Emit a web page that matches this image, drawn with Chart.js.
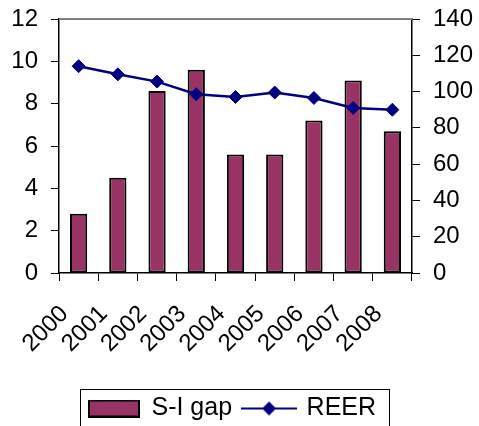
<!DOCTYPE html>
<html>
<head>
<meta charset="utf-8">
<script src="https://cdn.jsdelivr.net/npm/chart.js@4/dist/chart.umd.min.js"></script>
<style>
  html, body { margin: 0; padding: 0; background: #fff; }
  #wrap { width: 479px; height: 426px; position: relative; }
</style>
</head>
<body>
<div id="wrap"><canvas id="c" width="479" height="426"></canvas></div>
<script>
const years = ['2000', '2001', '2002', '2003', '2004', '2005', '2006', '2007', '2008'];
const siGap = [2.8, 4.5, 8.6, 9.6, 5.6, 5.6, 7.2, 9.1, 6.7];
const reer = [114, 109.5, 105.5, 98.5, 97, 99.5, 96.5, 91, 90];

const BAR = '#993366';
const LINE = '#000080';

Chart.defaults.font.family = '"Liberation Sans", Arial, sans-serif';
Chart.defaults.color = '#000';

function barSwatch() {
  const c = document.createElement('canvas');
  c.width = 52; c.height = 18;
  const x = c.getContext('2d');
  x.fillStyle = BAR; x.fillRect(1, 1, 50, 16);
  x.strokeStyle = '#000'; x.lineWidth = 2; x.strokeRect(1, 1, 50, 16);
  return c;
}
function lineSwatch() {
  const c = document.createElement('canvas');
  c.width = 56; c.height = 18;
  const x = c.getContext('2d');
  x.strokeStyle = LINE; x.lineWidth = 2;
  x.beginPath(); x.moveTo(0, 9); x.lineTo(56, 9); x.stroke();
  x.fillStyle = LINE;
  x.beginPath(); x.moveTo(28 - 7, 9); x.lineTo(28, 2); x.lineTo(35, 9); x.lineTo(28, 16); x.closePath(); x.fill();
  return c;
}
const swatches = [barSwatch(), lineSwatch()];

const framePlugin = {
  id: 'frame',
  afterLayout(chart) {
    if (chart.legend) { chart.legend.left -= 7; chart.legend.right -= 7; }
  },
  afterDraw(chart) {
    const { ctx, chartArea } = chart;
    ctx.save();
    ctx.strokeStyle = '#808080';
    ctx.lineWidth = 2;
    ctx.beginPath();
    ctx.moveTo(chartArea.left, chartArea.top);
    ctx.lineTo(chartArea.right, chartArea.top);
    ctx.stroke();
    const boxes = chart.legend.legendHitBoxes;
    if (boxes && boxes.length) {
      const l = Math.min(...boxes.map(b => b.left)) - 9;
      const r = Math.max(...boxes.map(b => b.left + b.width)) + 13;
      const cy = boxes[0].top + boxes[0].height / 2;
      ctx.strokeStyle = '#000';
      ctx.lineWidth = 1;
      ctx.strokeRect(Math.round(l) + 0.5, Math.round(cy - 20) + 0.5, Math.round(r - l), 44);
    }
    ctx.restore();
  }
};

function fitY(w) {
  return function (s) { s.width = w; s.paddingTop = 0; s.paddingBottom = 0; };
}

new Chart(document.getElementById('c'), {
  type: 'bar',
  data: {
    labels: years,
    datasets: [
      {
        type: 'bar',
        label: 'S-I gap',
        data: siGap,
        yAxisID: 'y',
        backgroundColor: BAR,
        borderColor: '#000',
        borderWidth: 2,
        borderSkipped: false,
        categoryPercentage: 1,
        barPercentage: 0.44,
        order: 2
      },
      {
        type: 'line',
        label: 'REER',
        data: reer,
        yAxisID: 'y1',
        borderColor: LINE,
        backgroundColor: LINE,
        borderWidth: 2.5,
        pointStyle: 'rectRot',
        pointRadius: 6.5,
        pointBorderWidth: 1,
        pointBackgroundColor: LINE,
        pointBorderColor: LINE,
        tension: 0,
        order: 1
      }
    ]
  },
  options: {
    responsive: false,
    animation: false,
    layout: { padding: { top: 19, left: 0, right: 0, bottom: -5 } },
    plugins: {
      tooltip: { enabled: false },
      legend: {
        position: 'bottom',
        labels: {
          font: { size: 25 },
          usePointStyle: true,
          pointStyleWidth: 50,
          padding: 12,
          sort: (a, b) => a.datasetIndex - b.datasetIndex,
          generateLabels(chart) {
            return Chart.defaults.plugins.legend.labels.generateLabels(chart)
              .map(it => Object.assign(it, { pointStyle: swatches[it.datasetIndex] }));
          }
        }
      }
    },
    scales: {
      x: {
        offset: true,
        grid: { display: true, drawOnChartArea: false, drawTicks: true, tickLength: 8, color: '#000', offset: true },
        border: { display: true, color: '#000', width: 1.5 },
        ticks: { font: { size: 24 }, maxRotation: 45, minRotation: 45, padding: 19, labelOffset: -14, autoSkip: false },
        afterFit(s) { s.height = 111; }
      },
      y: {
        position: 'left',
        min: 0, max: 12,
        ticks: { stepSize: 2, font: { size: 24 }, padding: 13 },
        grid: { drawOnChartArea: false, drawTicks: true, tickLength: 8, color: '#000' },
        border: { display: true, color: '#000', width: 1.5 },
        afterFit: fitY(59)
      },
      y1: {
        position: 'right',
        min: 0, max: 140,
        ticks: { stepSize: 20, font: { size: 24 }, padding: 13 },
        grid: { drawOnChartArea: false, drawTicks: true, tickLength: 8, color: '#000' },
        border: { display: true, color: '#000', width: 1.5 },
        afterFit: fitY(67)
      }
    }
  },
  plugins: [framePlugin]
});
</script>
</body>
</html>
